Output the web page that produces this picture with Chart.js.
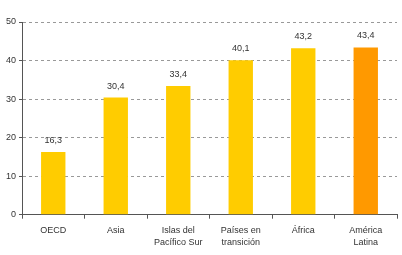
<!DOCTYPE html>
<html>
<head>
<meta charset="utf-8">
<script src="https://cdn.jsdelivr.net/npm/chart.js@4"></script>
<style>
  html, body { margin: 0; padding: 0; background: #fff; }
  #wrap { width: 402px; height: 255px; }
</style>
</head>
<body>
<div id="wrap"><canvas id="chart"></canvas></div>
<script>
// datos del grafico
var regiones = ['OECD', 'Asia', ['Islas del', 'Pacífico Sur'], ['Países en', 'transición'], 'África', ['América', 'Latina']];
var valores = [16.3, 30.4, 33.4, 40.1, 43.2, 43.4];
var colores = ['#FFCC00', '#FFCC00', '#FFCC00', '#FFCC00', '#FFCC00', '#FF9900'];
var ticksY = [0, 10, 20, 30, 40, 50];

// etiquetas de valor encima de cada barra
var etiquetas = {
  id: 'etiquetas',
  afterDatasetsDraw: function (chart) {
    var ctx = chart.ctx;
    var meta = chart.getDatasetMeta(0);
    ctx.save();
    ctx.font = '9px "Liberation Sans", Arial, sans-serif';
    ctx.fillStyle = '#333';
    ctx.textAlign = 'center';
    ctx.textBaseline = 'bottom';
    meta.data.forEach(function (bar, i) {
      ctx.fillText(valores[i].toFixed(1).replace('.', ','), bar.x, bar.y - 7);
    });
    ctx.restore();
  }
};

var grafico = new Chart(document.getElementById('chart'), {
  type: 'bar',
  data: {
    labels: regiones,
    datasets: [
      {
        data: valores,
        backgroundColor: colores,
        borderWidth: 0,
        categoryPercentage: 1,
        barPercentage: 0.39,
      },
    ],
  },
  options: {
    responsive: true,
    maintainAspectRatio: false,
    animation: false,
    layout: { padding: { top: 22, right: 5, left: 0, bottom: 0 } },
    plugins: {
      legend: { display: false },
      tooltip: { enabled: false },
    },
    scales: {
      x: {
        grid: {
          display: true,
          drawOnChartArea: false,
          offset: true,
          tickLength: 4,
          color: '#555',
        },
        border: { color: '#555', width: 1 },
        ticks: {
          color: '#333',
          font: { family: '"Liberation Sans", Arial, sans-serif', size: 9, lineHeight: 1.35 },
          maxRotation: 0,
          autoSkip: false,
          padding: 6,
        },
      },
      y: {
        min: 0,
        max: 50,
        afterBuildTicks: function (axis) {
          axis.ticks = ticksY.map(function (v) { return { value: v }; });
        },
        afterFit: function (axis) { axis.width = 22; },
        grid: {
          color: '#999',
          tickLength: 3,
          tickColor: '#555',
        },
        border: { color: '#555', width: 1, dash: [3, 3] },
        ticks: {
          color: '#333',
          font: { family: '"Liberation Sans", Arial, sans-serif', size: 9 },
          padding: 3,
        },
      },
    },
  },
  plugins: [etiquetas],
});
</script>
</body>
</html>
